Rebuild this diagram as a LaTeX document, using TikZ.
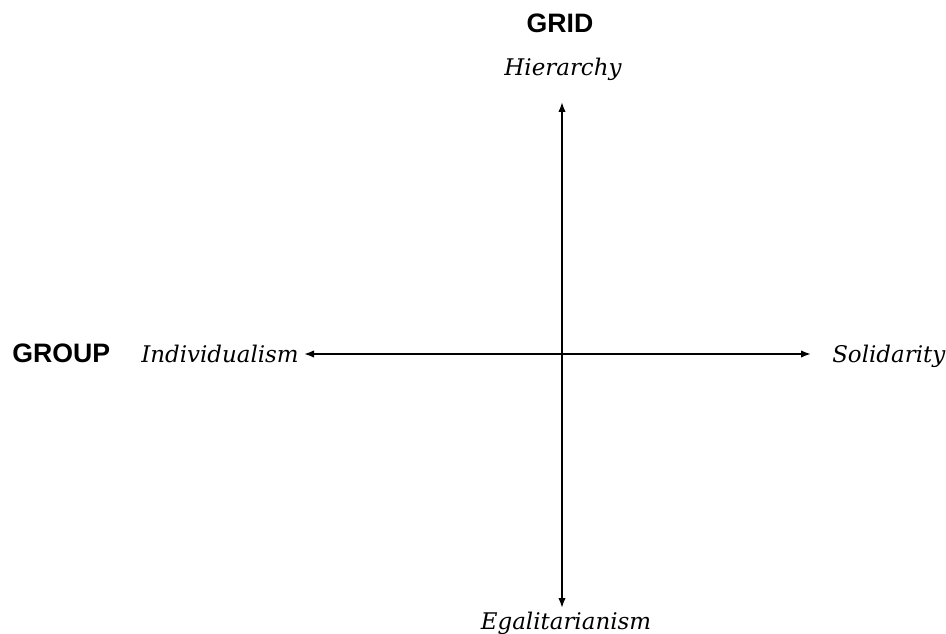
\documentclass[tikz,border=0pt]{standalone}
\usepackage{fontspec}
\setmainfont{DejaVu Serif}
\setsansfont{Liberation Sans}
\usetikzlibrary{arrows.meta}

\tikzset{
  pole/.style={inner sep=0pt, font=\fontsize{17.2}{20}\selectfont\itshape},
  axisname/.style={inner sep=0pt, font=\fontsize{20}{24}\selectfont\sffamily\bfseries},
  axis/.style={line width=1.3pt, {Latex[length=7.5pt,width=5.6pt]}-{Latex[length=7.5pt,width=5.6pt]}}
}

\begin{document}
\begin{tikzpicture}[x=0.75pt,y=-0.75pt]
\useasboundingbox (0,0) rectangle (946,634);

\node[axisname,anchor=base] (grid) at (560,33) {GRID};
\node[axisname,anchor=base west] (group) at (12,363) {GROUP};

\node[pole,anchor=base] (hier) at (563,76) {Hierarchy};
\node[pole,anchor=base] (egal) at (566,629) {Egalitarianism};
\node[pole,anchor=base east] (indiv) at (299,363) {Individualism};
\node[pole,anchor=base west] (solid) at (832,363) {Solidarity};

\coordinate (top) at (562,102);
\coordinate (bottom) at (562,608);
\coordinate (left) at (304,354);
\coordinate (right) at (811,354);

\draw[axis] (top) -- (bottom);
\draw[axis] (left) -- (right);

\end{tikzpicture}
\end{document}
